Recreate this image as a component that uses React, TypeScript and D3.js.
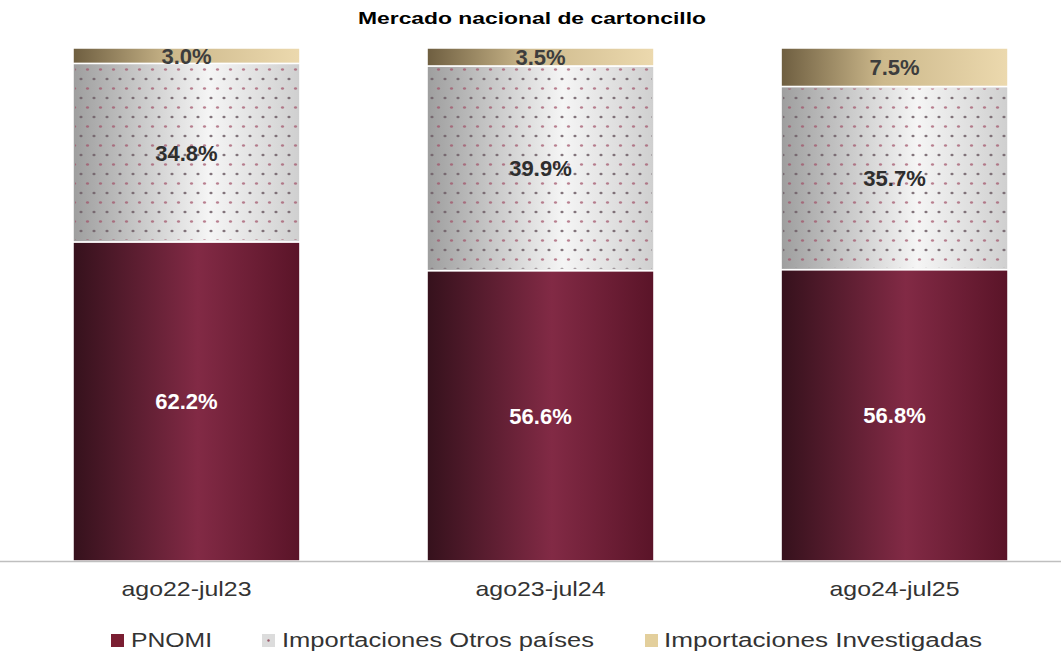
import React from "react";
import * as d3 from "d3";

const categories = ["ago22-jul23", "ago23-jul24", "ago24-jul25"];
const seriesNames = ["PNOMI", "Importaciones Otros países", "Importaciones Investigadas"];
const pnomi = [62.2, 56.6, 56.8];
const otros = [34.8, 39.9, 35.7];
const investigadas = [3.0, 3.5, 7.5];
const title = "Mercado nacional de cartoncillo";

const W = 1061;
const H = 654;
const margin = { top: 48, bottom: 93 };

export default function App() {
  const x = d3.scaleBand<string>().domain(categories).range([10, 1071]).paddingInner(0.359).paddingOuter(0.178);
  const y = d3.scaleLinear().domain([0, 100]).range([H - margin.bottom, margin.top]);
  const rows = categories.map((c, i) => ({ cat: c, PNOMI: pnomi[i], otros: otros[i], inv: investigadas[i] }));
  const stack = d3.stack<any>().keys(["PNOMI", "otros", "inv"]);
  const series = stack(rows);
  const fills = ["url(#gMaroon)", "url(#gGrey)", "url(#gTan)"];
  const textColors = ["#ffffff", "#2e2e2e", "#3d3d3d"];
  const font = "Liberation Sans, Arial, sans-serif";
  const legendItems = [
    { sx: 111, fill: "#7a1e32", tx: 131, w: 81 },
    { sx: 262, fill: "#dcdcdc", tx: 282, w: 312 },
    { sx: 645, fill: "#e3cf9c", tx: 664, w: 318 },
  ];

  return (
    <svg width={W} height={H} style={{ position: "absolute", left: 0, top: 0, background: "#fff" }}>
      <defs>
        <linearGradient id="gMaroon" x1="0" x2="1" y1="0" y2="0">
          <stop offset="0" stopColor="#35111c" />
          <stop offset="0.55" stopColor="#822a45" />
          <stop offset="1" stopColor="#5a1428" />
        </linearGradient>
        <pattern id="dots" width="13" height="19" patternUnits="userSpaceOnUse">
          <ellipse cx="3" cy="3" rx="1.6" ry="1.2" fill="#6e5e66" opacity="0.85" />
          <ellipse cx="9.5" cy="12.5" rx="1.6" ry="1.2" fill="#a04e66" opacity="0.7" />
        </pattern>
        <linearGradient id="gTan" x1="0" x2="1" y1="0" y2="0">
          <stop offset="0" stopColor="#6e5e40" />
          <stop offset="0.45" stopColor="#cdb98c" />
          <stop offset="1" stopColor="#ecd9ae" />
        </linearGradient>
        <linearGradient id="gGrey" x1="0" x2="1" y1="0" y2="0">
          <stop offset="0" stopColor="#9e9e9e" />
          <stop offset="0.6" stopColor="#f5f5f5" />
          <stop offset="1" stopColor="#cfcfcf" />
        </linearGradient>
      </defs>
      <text x={358} y={24} textLength={348} lengthAdjust="spacingAndGlyphs" fontFamily={font} fontWeight="bold" fontSize={17} fill="#000">
        {title}
      </text>
      {series.map((s, si) => (
        <g key={si}>
          {s.map((d, i) => {
            const bx = x(categories[i])!;
            const bw = x.bandwidth();
            const y0 = y(d[1]);
            const y1 = y(d[0]);
            const val = [pnomi, otros, investigadas][si][i];
            const cx = bx + bw / 2;
            const cy = (y0 + y1) / 2 + 8;
            return (
              <g key={i}>
                <rect x={bx} y={y0} width={bw} height={y1 - y0} fill={fills[si]} stroke="#fff" strokeWidth={1.5} />
                {si === 1 && <rect x={bx + 2} y={y0 + 2} width={bw - 4} height={y1 - y0 - 4} fill="url(#dots)" />}
                <text x={cx} y={cy} textAnchor="middle" fontFamily={font} fontWeight="bold" fontSize={22} fill={textColors[si]}>
                  {val.toFixed(1)}%
                </text>
              </g>
            );
          })}
        </g>
      ))}
      <line x1={0} x2={W} y1={y(0) + 0.5} y2={y(0) + 0.5} stroke="#bfbfbf" strokeWidth={1.5} />
      {categories.map((c) => (
        <text
          key={c}
          x={x(c)! + x.bandwidth() / 2 - 65}
          y={596}
          textLength={130}
          lengthAdjust="spacingAndGlyphs"
          fontFamily={font}
          fontSize={21}
          fill="#333"
        >
          {c}
        </text>
      ))}
      {legendItems.map((l, i) => (
        <g key={i}>
          <rect x={l.sx} y={634} width={13} height={13} fill={l.fill} />
          {i === 1 && <circle cx={l.sx + 6.5} cy={640.5} r={1.2} fill="#9a5a6a" />}
          <text x={l.tx} y={647} textLength={l.w} lengthAdjust="spacingAndGlyphs" fontFamily={font} fontSize={20} fill="#333">
            {seriesNames[i]}
          </text>
        </g>
      ))}
    </svg>
  );
}
